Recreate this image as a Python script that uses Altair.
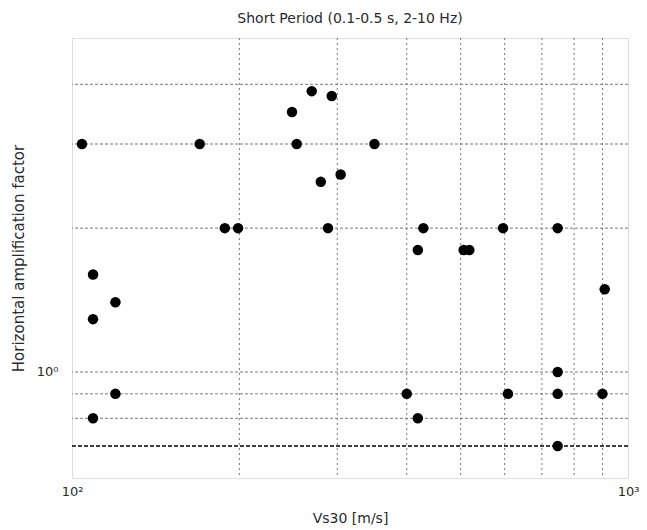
import altair as alt
import pandas as pd

# Data
vs30 = [104.2, 169.7, 253.6, 349.9, 248.7, 269.9, 293.2, 280.2, 304.2,
        188.3, 198.9, 288.7, 428.5, 418.8, 506.3, 518.4, 596.0, 747.3,
        908.1, 109.1, 119.7, 109.1, 119.7, 109.1, 400.0, 418.8, 608.3,
        747.3, 747.3, 899.5, 747.3]
amp = [3.0, 3.0, 3.0, 3.0, 3.50, 3.87, 3.78, 2.50, 2.59,
       2.0, 2.0, 2.0, 2.0, 1.80, 1.80, 1.80, 2.0, 2.0,
       1.49, 1.60, 1.40, 1.29, 0.9, 0.8, 0.9, 0.8, 0.9,
       1.0, 0.9, 0.9, 0.7]

x_grid = [200, 300, 400, 500, 600, 700, 800, 900]
y_grid = [0.8, 0.9, 1.0, 2.0, 3.0, 4.0]
ref_level = [0.7]
x_ticks = [100, 1000]
y_ticks = [1]
x_domain = [100, 1000]
y_domain = [0.6, 5]

FONT = "DejaVu Sans"
TXT = "#2a2a2a"

pts = pd.DataFrame({"vs30": vs30, "amp": amp})
xg = pd.DataFrame({"x": x_grid})
yg = pd.DataFrame({"y": y_grid})
rf = pd.DataFrame({"y": ref_level})

xscale = alt.Scale(type="log", domain=x_domain, nice=False)
yscale = alt.Scale(type="log", domain=y_domain, nice=False)

xaxis = alt.Axis(values=x_ticks, grid=False, domain=False, ticks=False,
                 labelExpr="datum.value == 100 ? '10²' : '10³'",
                 labelFont=FONT, labelFontSize=13, labelColor=TXT, labelPadding=7,
                 labelFlush=False,
                 title="Vs30 [m/s]", titleFont=FONT, titleFontSize=14,
                 titleFontWeight="normal", titleColor=TXT,
                 titleY=40, titleBaseline="middle")
yaxis = alt.Axis(values=y_ticks, grid=False, domain=False, ticks=False,
                 labelExpr="'10⁰'",
                 labelFont=FONT, labelFontSize=13, labelColor=TXT, labelPadding=14,
                 title="Horizontal amplification factor", titleFont=FONT,
                 titleFontSize=15, titleFontWeight="normal", titleColor=TXT,
                 titleX=-54, titleY=220, titleAngle=270, titleBaseline="middle")

vgrid = alt.Chart(xg).mark_rule(color="#777777", strokeDash=[2, 3], strokeWidth=1).encode(
    x=alt.X("x:Q", scale=xscale, axis=xaxis))
hgrid = alt.Chart(yg).mark_rule(color="#777777", strokeDash=[3, 2], strokeWidth=1).encode(
    y=alt.Y("y:Q", scale=yscale, axis=yaxis))
ref = alt.Chart(rf).mark_rule(color="#000000", strokeDash=[4, 2], strokeWidth=1.3).encode(
    y=alt.Y("y:Q", scale=yscale))
dots = alt.Chart(pts).mark_circle(color="#000000", opacity=1, size=110).encode(
    x=alt.X("vs30:Q", scale=xscale),
    y=alt.Y("amp:Q", scale=yscale))

chart = alt.layer(vgrid, hgrid, ref, dots).properties(
    width=556, height=440,
    title=alt.TitleParams("Short Period (0.1-0.5 s, 2-10 Hz)", font=FONT, fontSize=14,
                          fontWeight="normal", color=TXT, offset=12, anchor="middle"),
    autosize=alt.AutoSizeParams(type="none"),
    padding={"left": 64, "top": 30, "right": 11, "bottom": 48},
).configure_view(stroke="#222222", strokeWidth=1.2).configure(background="white")

chart.save("out.html", embed_options={"renderer": "svg", "actions": False})
